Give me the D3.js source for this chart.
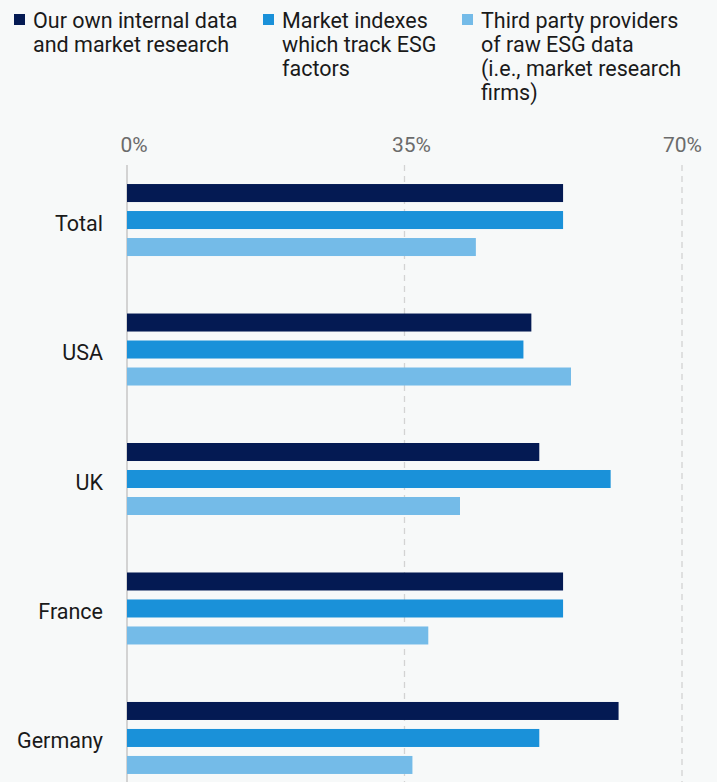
<!DOCTYPE html>
<html>
<head>
<meta charset="utf-8">
<script src="https://cdn.jsdelivr.net/npm/d3@7"></script>
<style>
  body { margin: 0; background: #f7f9f9; }
  svg { display: block; font-family: Roboto, "Noto Sans", sans-serif; }
</style>
</head>
<body>
<svg id="chart" width="717" height="782"></svg>
<script>
const categories = ['Total', 'USA', 'UK', 'France', 'Germany'];
const seriesNames = [
  ['Our own internal data', 'and market research'],
  ['Market indexes', 'which track ESG', 'factors'],
  ['Third party providers', 'of raw ESG data', '(i.e., market research', 'firms)']
];
const ownData = [55, 51, 52, 55, 62];
const marketIndexes = [55, 50, 61, 55, 52];
const thirdParty = [44, 56, 42, 38, 36];
const ticks = [0, 35, 70];
const colors = ['#041a53', '#1a91d9', '#74bbe8'];

const width = 717, height = 782;
const svg = d3.select('#chart');

const series = [ownData, marketIndexes, thirdParty];
const rows = categories.map((c, i) => ({
  cat: c,
  values: series.map((s, j) => ({ key: j, value: s[i] }))
}));

// scales
const x = d3.scaleLinear().domain([0, 70]).range([127, 682]);
const y = d3.scaleBand()
  .domain(categories)
  .range([165, 793])
  .paddingInner(0.444)
  .paddingOuter(0.147);
const y1 = d3.scaleBand()
  .domain(d3.range(series.length))
  .range([0, y.bandwidth()])
  .paddingInner(0.333);

// grid
const grid = svg.append('g');
grid.selectAll('line')
  .data(ticks)
  .join('line')
  .attr('x1', d => x(d)).attr('x2', d => x(d))
  .attr('y1', 165).attr('y2', height)
  .attr('stroke', '#d3d3d3')
  .attr('stroke-width', d => d === 0 ? 2 : 1.3)
  .attr('stroke-dasharray', d => d === 0 ? null : '6,5');

// top axis labels
const tl = svg.append('g').selectAll('text')
  .data(ticks)
  .join('text')
  .attr('y', 152)
  .attr('text-anchor', 'middle')
  .attr('fill', '#6b6b6b')
  .attr('font-size', 21)
  .text(d => d + '%');
tl.attr('x', function(d) {
  const hw = this.getComputedTextLength() / 2;
  return Math.min(x(d) + 7, width - 15 - hw);
});

// bars
const groups = svg.append('g').selectAll('g')
  .data(rows)
  .join('g')
  .attr('transform', d => `translate(0,${y(d.cat)})`);

groups.selectAll('rect')
  .data(d => d.values)
  .join('rect')
  .attr('x', x(0))
  .attr('y', d => y1(d.key))
  .attr('width', d => x(d.value) - x(0))
  .attr('height', y1.bandwidth())
  .attr('fill', d => colors[d.key]);

// category labels
svg.append('g').selectAll('text')
  .data(categories)
  .join('text')
  .attr('x', 103)
  .attr('y', d => y(d) + y.bandwidth() / 2 + 3)
  .attr('dy', '0.35em')
  .attr('text-anchor', 'end')
  .attr('fill', '#1a1a1a')
  .attr('font-size', 21.5)
  .text(d => d);

// legend
const legendX = [14, 263, 462];
const legend = svg.append('g').selectAll('g')
  .data(seriesNames)
  .join('g')
  .attr('transform', (d, i) => `translate(${legendX[i]},0)`);

legend.append('rect')
  .attr('x', 0).attr('y', 14)
  .attr('width', 11).attr('height', 11)
  .attr('fill', (d, i) => colors[i]);

legend.append('text')
  .attr('fill', '#1a1a1a')
  .attr('font-size', 21.5)
  .selectAll('tspan')
  .data(d => d)
  .join('tspan')
  .attr('x', 19)
  .attr('y', (d, i) => 28 + i * 24)
  .text(d => d);
</script>
</body>
</html>
